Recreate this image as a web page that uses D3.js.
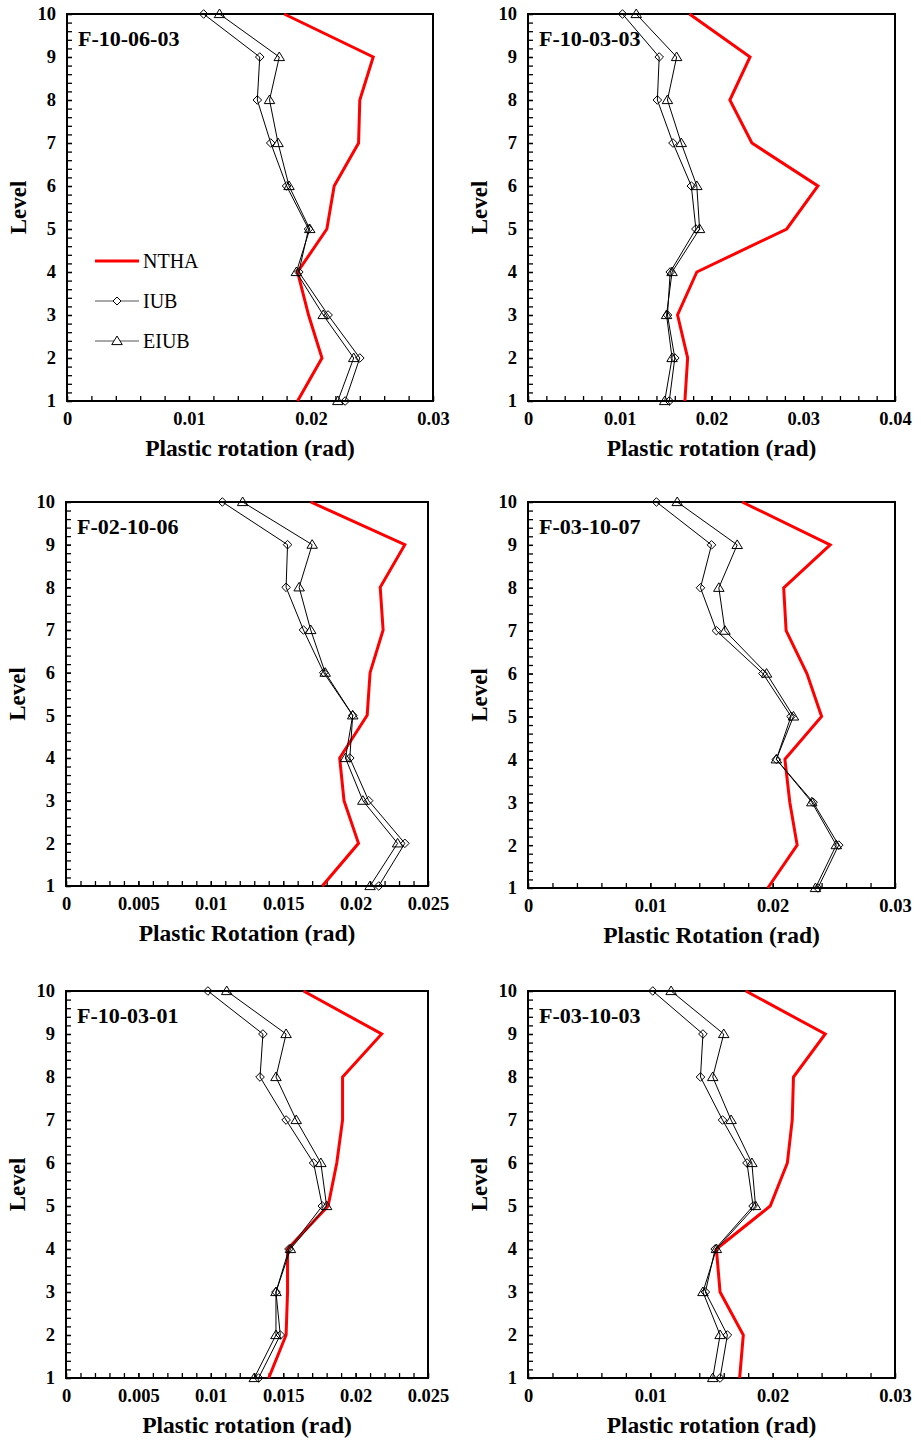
<!DOCTYPE html>
<html>
<head>
<meta charset="utf-8">
<script src="https://cdn.jsdelivr.net/npm/d3@7"></script>
<style>
  html, body { margin: 0; padding: 0; background: #fff; }
  svg { display: block; font-family: "Liberation Serif", "Times New Roman", serif; }
</style>
</head>
<body>
<svg id="chart" width="921" height="1440"></svg>
<script>
// Storey levels (1 = bottom storey)
const levels = [1, 2, 3, 4, 5, 6, 7, 8, 9, 10];
const seriesNames = ["NTHA", "IUB", "EIUB"];

// Plastic rotation (rad) per level, listed from level 1 to level 10
const nthaF100603 = [0.0189, 0.0209, 0.0198, 0.0189, 0.0213, 0.0219, 0.0239, 0.0240, 0.0251, 0.0178];
const iubF100603  = [0.0228, 0.0240, 0.0214, 0.0190, 0.0198, 0.0180, 0.0167, 0.0156, 0.0158, 0.0112];
const eiubF100603 = [0.0222, 0.0235, 0.0210, 0.0188, 0.0199, 0.0182, 0.0173, 0.0166, 0.0174, 0.0125];

const nthaF100303 = [0.0171, 0.0174, 0.0163, 0.0184, 0.0282, 0.0316, 0.0244, 0.0220, 0.0242, 0.0176];
const iubF100303  = [0.0154, 0.0160, 0.0152, 0.0155, 0.0183, 0.0178, 0.0158, 0.0141, 0.0143, 0.0103];
const eiubF100303 = [0.0149, 0.0157, 0.0151, 0.0157, 0.0187, 0.0184, 0.0167, 0.0152, 0.0162, 0.0118];

const nthaF021006 = [0.0177, 0.0202, 0.0192, 0.0189, 0.0208, 0.0210, 0.0219, 0.0217, 0.0234, 0.0169];
const iubF021006  = [0.0216, 0.0234, 0.0209, 0.0196, 0.0198, 0.0178, 0.0164, 0.0152, 0.0153, 0.0108];
const eiubF021006 = [0.0210, 0.0229, 0.0205, 0.0193, 0.0198, 0.0179, 0.0169, 0.0161, 0.0170, 0.0122];

const nthaF031007 = [0.0196, 0.0220, 0.0214, 0.0210, 0.0240, 0.0228, 0.0211, 0.0209, 0.0247, 0.0175];
const iubF031007  = [0.0237, 0.0254, 0.0233, 0.0203, 0.0215, 0.0192, 0.0154, 0.0141, 0.0150, 0.0105];
const eiubF031007 = [0.0235, 0.0252, 0.0232, 0.0203, 0.0217, 0.0195, 0.0161, 0.0156, 0.0171, 0.0122];

const nthaF100301 = [0.0140, 0.0152, 0.0153, 0.0153, 0.0181, 0.0187, 0.0191, 0.0191, 0.0218, 0.0164];
const iubF100301  = [0.0133, 0.0148, 0.0145, 0.0154, 0.0177, 0.0171, 0.0152, 0.0134, 0.0136, 0.0098];
const eiubF100301 = [0.0130, 0.0145, 0.0145, 0.0155, 0.0180, 0.0176, 0.0159, 0.0145, 0.0152, 0.0111];

const nthaF031003 = [0.0173, 0.0176, 0.0157, 0.0154, 0.0198, 0.0212, 0.0216, 0.0217, 0.0243, 0.0178];
const iubF031003  = [0.0157, 0.0163, 0.0145, 0.0153, 0.0184, 0.0179, 0.0159, 0.0141, 0.0143, 0.0102];
const eiubF031003 = [0.0151, 0.0157, 0.0143, 0.0154, 0.0186, 0.0183, 0.0166, 0.0151, 0.0160, 0.0117];

// Axis ranges and tick steps for the rotation axis
const xMaxValues   = [0.03, 0.04, 0.025, 0.03, 0.025, 0.03];
const xMajorSteps  = [0.01, 0.01, 0.005, 0.01, 0.005, 0.01];
const xMinorSteps  = [0.002, 0.002, 0.001, 0.002, 0.001, 0.002];
const frameNames   = ["F-10-06-03", "F-10-03-03", "F-02-10-06", "F-03-10-07", "F-10-03-01", "F-03-10-03"];
const xAxisTitles  = ["Plastic rotation (rad)", "Plastic rotation (rad)", "Plastic Rotation (rad)",
                      "Plastic Rotation (rad)", "Plastic rotation (rad)", "Plastic rotation (rad)"];

const panelData = [
  [nthaF100603, iubF100603, eiubF100603],
  [nthaF100303, iubF100303, eiubF100303],
  [nthaF021006, iubF021006, eiubF021006],
  [nthaF031007, iubF031007, eiubF031007],
  [nthaF100301, iubF100301, eiubF100301],
  [nthaF031003, iubF031003, eiubF031003]
];

// Plot-area boxes of the six panels
const boxes = [
  { left: 67,  top: 14,  right: 433, bottom: 401 },
  { left: 528, top: 14,  right: 895, bottom: 401 },
  { left: 66,  top: 502, right: 428, bottom: 886 },
  { left: 528, top: 502, right: 895, bottom: 888 },
  { left: 66,  top: 991, right: 428, bottom: 1378 },
  { left: 528, top: 991, right: 895, bottom: 1378 }
];

const svg = d3.select("#chart");
const fmt = d => d === 0 ? "0" : String(+d.toFixed(4));
const stepRange = (max, step) => d3.range(0, Math.round(max / step) + 1).map(i => +(i * step).toFixed(5));
const serif = "'Liberation Serif', 'Times New Roman', serif";

const diamondPath = r => `M0,${-r}L${r},0L0,${r}L${-r},0Z`;
const trianglePath = s => `M0,${-s}L${s * 1.05},${s * 0.72}L${-s * 1.05},${s * 0.72}Z`;

function drawPanel(i) {
  const b = boxes[i];
  const [ntha, iub, eiub] = panelData[i];
  const g = svg.append("g").attr("transform", `translate(${b.left},${b.top})`);
  const w = b.right - b.left, h = b.bottom - b.top;

  const x = d3.scaleLinear().domain([0, xMaxValues[i]]).range([0, w]);
  const y = d3.scaleLinear().domain([1, 10]).range([h, 0]);

  // minor ticks
  g.append("g").attr("transform", `translate(0,${h})`)
    .call(d3.axisBottom(x).tickValues(stepRange(xMaxValues[i], xMinorSteps[i])).tickSize(-5).tickSizeOuter(0).tickFormat(""))
    .call(a => a.select(".domain").remove())
    .call(a => a.selectAll("line").attr("stroke", "#000").attr("stroke-width", 1.3));
  g.append("g")
    .call(d3.axisLeft(y).tickValues(d3.range(10, 101, 2).map(v => v / 10)).tickSize(-5).tickSizeOuter(0).tickFormat(""))
    .call(a => a.select(".domain").remove())
    .call(a => a.selectAll("line").attr("stroke", "#000").attr("stroke-width", 1.3));

  // major ticks with labels
  g.append("g").attr("transform", `translate(0,${h})`)
    .call(d3.axisBottom(x).tickValues(stepRange(xMaxValues[i], xMajorSteps[i])).tickSize(-5).tickSizeOuter(0).tickPadding(11).tickFormat(fmt))
    .call(a => a.select(".domain").remove())
    .call(a => a.selectAll("line").attr("stroke", "#000").attr("stroke-width", 1.3))
    .call(a => a.selectAll("text").attr("font-size", 18.5).attr("font-weight", "bold").attr("fill", "#000")
      .attr("font-family", serif));
  g.append("g")
    .call(d3.axisLeft(y).tickValues(levels).tickSize(-5).tickSizeOuter(0).tickPadding(11).tickFormat(d3.format("d")))
    .call(a => a.select(".domain").remove())
    .call(a => a.selectAll("line").attr("stroke", "#000").attr("stroke-width", 1.3))
    .call(a => a.selectAll("text").attr("font-size", 18.5).attr("font-weight", "bold").attr("fill", "#000")
      .attr("font-family", serif));

  // frame
  g.append("rect").attr("x", 0).attr("y", 0).attr("width", w).attr("height", h)
    .attr("fill", "none").attr("stroke", "#000").attr("stroke-width", 2);

  const line = d3.line().x(d => x(d.v)).y(d => y(d.level));
  const pts = arr => levels.map((lv, k) => ({ level: lv, v: arr[k] }));

  // NTHA envelope
  g.append("path").datum(pts(ntha)).attr("d", line)
    .attr("fill", "none").attr("stroke", "#ff0000").attr("stroke-width", 3).attr("stroke-linejoin", "miter");

  // IUB and EIUB estimates
  [[iub, "diamond"], [eiub, "triangle"]].forEach(([arr, shape]) => {
    const p = pts(arr);
    g.append("path").datum(p).attr("d", line)
      .attr("fill", "none").attr("stroke", "#000").attr("stroke-width", 1);
    g.selectAll(null).data(p).enter().append("path")
      .attr("transform", d => `translate(${x(d.v)},${y(d.level)})`)
      .attr("d", shape === "diamond" ? diamondPath(4.3) : trianglePath(5))
      .attr("fill", "none").attr("stroke", "#000").attr("stroke-width", 1);
  });

  // frame title
  g.append("text").attr("x", 11).attr("y", 32)
    .attr("font-size", 22).attr("font-weight", "bold").text(frameNames[i]);

  // axis titles
  g.append("text").attr("x", w / 2).attr("y", h + 55).attr("text-anchor", "middle")
    .attr("font-size", 23.5).attr("font-weight", "bold").text(xAxisTitles[i]);
  g.append("text").attr("transform", `translate(-41,${h / 2}) rotate(-90)`).attr("text-anchor", "middle")
    .attr("font-size", 23).attr("font-weight", "bold").text("Level");

  if (i === 0) {
    const lg = g.append("g").attr("transform", `translate(${95 - b.left},${261 - b.top})`);
    seriesNames.forEach((name, k) => {
      const row = lg.append("g").attr("transform", `translate(0,${k * 40})`);
      row.append("line").attr("x1", 0).attr("x2", 44).attr("y1", 0).attr("y2", 0)
        .attr("stroke", k === 0 ? "#ff0000" : "#555").attr("stroke-width", k === 0 ? 3 : 1.2);
      if (k === 1) row.append("path").attr("transform", "translate(22,0)").attr("d", diamondPath(4))
        .attr("fill", "#fff").attr("stroke", "#000").attr("stroke-width", 1);
      if (k === 2) row.append("path").attr("transform", "translate(22,0)").attr("d", trianglePath(5))
        .attr("fill", "#fff").attr("stroke", "#000").attr("stroke-width", 1);
      row.append("text").attr("x", 48).attr("y", 7).attr("font-size", 20).text(name);
    });
  }
}

d3.range(6).forEach(drawPanel);
</script>
</body>
</html>
